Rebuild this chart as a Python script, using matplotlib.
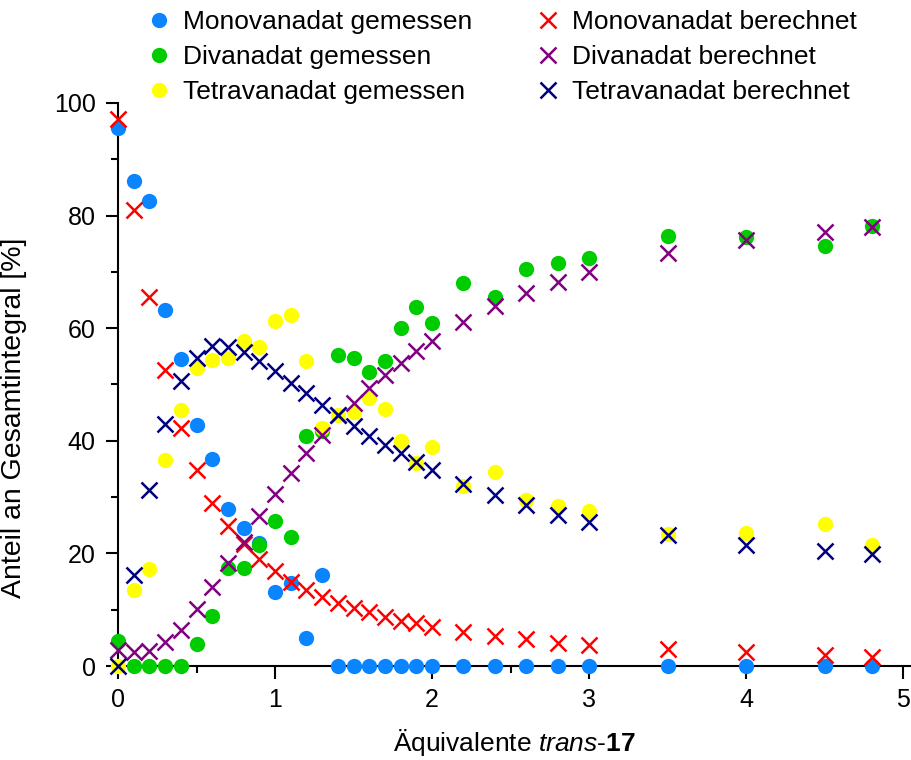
import matplotlib
matplotlib.use("Agg")
import matplotlib.pyplot as plt
from matplotlib.ticker import MultipleLocator

plt.rcParams['font.family'] = ['Liberation Sans', 'DejaVu Sans']
plt.rcParams['mathtext.fontset'] = 'custom'
plt.rcParams['mathtext.rm'] = 'Liberation Sans'
plt.rcParams['mathtext.it'] = 'Liberation Sans:italic'
plt.rcParams['mathtext.bf'] = 'Liberation Sans:bold'

# Äquivalente trans-17
aeq = [0, 0.1, 0.2, 0.3, 0.4, 0.5, 0.6, 0.7, 0.8, 0.9, 1.0, 1.1, 1.2, 1.3, 1.4,
       1.5, 1.6, 1.7, 1.8, 1.9, 2.0, 2.2, 2.4, 2.6, 2.8, 3.0, 3.5, 4.0, 4.5, 4.8]

# gemessen
mono_gem = [95.5, 86.2, 82.6, 63.3, 54.5, 42.8, 36.8, 27.8, 24.5, 21.8, 13.1, 14.8, 4.9, 16.2, 0,
            0, 0, 0, 0, 0, 0, 0, 0, 0, 0, 0, 0, 0, 0, 0]
di_gem = [4.4, 0, 0, 0, 0, 3.9, 8.9, 17.4, 17.4, 21.5, 25.8, 22.9, 40.8, 41.8, 55.3,
          54.7, 52.3, 54.2, 60.0, 63.8, 60.9, 68.0, 65.5, 70.5, 71.6, 72.4, 76.4, 76.2, 74.6, 78.2]
tetra_gem = [0, 13.5, 17.2, 36.6, 45.5, 52.9, 54.4, 54.7, 57.7, 56.7, 61.3, 62.3, 54.2, 42.3, 44.6,
             45.1, 47.6, 45.6, 40.0, 36.1, 38.9, 32.0, 34.5, 29.5, 28.4, 27.5, 23.4, 23.6, 25.2, 21.5]

# berechnet
mono_ber = [97.2, 81.0, 65.5, 52.6, 42.3, 34.8, 29.0, 24.8, 21.6, 19.0, 16.9, 14.9, 13.5, 12.3, 11.2,
            10.3, 9.6, 8.7, 8.0, 7.6, 7.0, 6.0, 5.3, 4.8, 4.1, 3.7, 3.0, 2.5, 2.0, 1.6]
di_ber = [2.8, 2.5, 2.7, 4.3, 6.4, 10.1, 14.0, 18.3, 22.0, 26.6, 30.6, 34.3, 37.8, 41.0, 44.6,
          46.7, 49.4, 51.7, 53.8, 56.0, 57.7, 61.1, 64.0, 66.2, 68.2, 70.0, 73.4, 75.7, 77.1, 78.0]
tetra_ber = [0, 16.2, 31.3, 43.0, 50.6, 54.7, 56.8, 56.7, 55.8, 54.2, 52.4, 50.3, 48.5, 46.4, 44.6,
             42.6, 40.9, 39.3, 37.8, 36.2, 34.8, 32.3, 30.4, 28.6, 26.8, 25.6, 23.3, 21.5, 20.4, 19.9]

fig = plt.figure(figsize=(9.12, 7.6), dpi=100)
ax = fig.add_axes([118 / 912, 1 - 666 / 760, 793 / 912, 563 / 760])

gem = [(mono_gem, '#0a84ff', 'Monovanadat gemessen'),
       (di_gem, '#00cc00', 'Divanadat gemessen'),
       (tetra_gem, '#ffff00', 'Tetravanadat gemessen')]
ber = [(mono_ber, '#ff0000', 'Monovanadat berechnet'),
       (di_ber, '#800080', 'Divanadat berechnet'),
       (tetra_ber, '#000080', 'Tetravanadat berechnet')]

for vals, col, lab in gem:
    ax.plot(aeq, vals, 'o', color=col, markersize=11, markeredgewidth=0,
            label=lab, clip_on=False, zorder=3)
for vals, col, lab in ber:
    ax.plot(aeq, vals, 'x', color=col, markersize=12, markeredgewidth=1.8,
            label=lab, clip_on=False, zorder=4)

ax.set_xlim(0, 5.05)
ax.set_ylim(0, 100)
ax.spines['top'].set_visible(False)
ax.spines['right'].set_visible(False)
for s in ['left', 'bottom']:
    ax.spines[s].set_linewidth(1.5)
ax.xaxis.set_major_locator(MultipleLocator(1))
ax.xaxis.set_minor_locator(MultipleLocator(0.5))
ax.yaxis.set_major_locator(MultipleLocator(20))
ax.yaxis.set_minor_locator(MultipleLocator(10))
ax.tick_params(which='major', direction='out', length=9, width=1.5, labelsize=18, pad=7)
ax.tick_params(which='minor', direction='out', length=5, width=1.5)

ax.set_xlabel(r'Äquivalente $\mathit{trans}$-$\mathbf{17}$', fontsize=19, labelpad=11)
ax.set_ylabel('Anteil an Gesamtintegral [%]', fontsize=20.5)
ax.yaxis.set_label_coords(-0.115, 0.44)

h, l = ax.get_legend_handles_labels()
fig.legend(h, l, ncol=2, loc='upper left', bbox_to_anchor=(130 / 912, 1.008),
           frameon=False, fontsize=19, handlelength=1.0, handletextpad=0.4,
           columnspacing=2.38, labelspacing=0.42, borderaxespad=0.2)

fig.savefig('out.png', dpi=100)
